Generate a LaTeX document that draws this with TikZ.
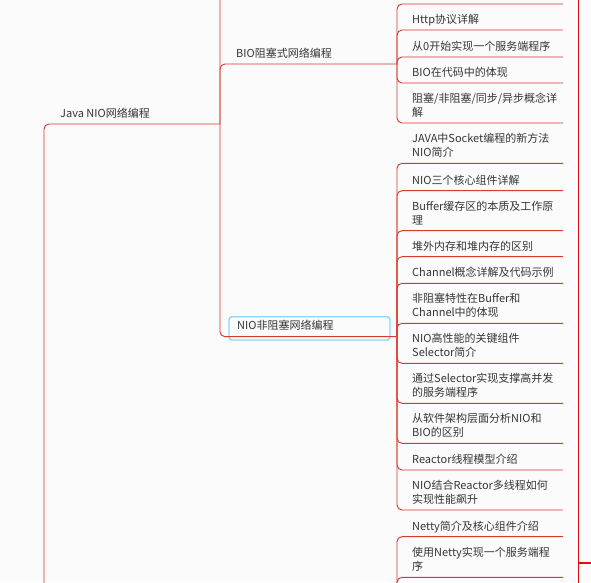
\documentclass[tikz,border=0pt]{standalone}
\usepackage{fontspec}
\newfontfamily\cjkf{Noto Sans CJK SC}
\definecolor{bgc}{HTML}{FBFBFB}
\definecolor{linec}{HTML}{D83A2C}
\definecolor{rightc}{HTML}{E30B0B}
\definecolor{txtc}{HTML}{353535}
\definecolor{selc}{HTML}{8CD7F5}
\newcommand{\twol}[2]{\vtop{\baselineskip=14pt\hbox{#1}\hbox{#2}}}
\tikzset{
  lbl/.style={anchor=base west, inner sep=0pt, text=txtc, font=\cjkf\fontsize{11}{14}\selectfont},
  conn/.style={draw=linec, line width=0.95pt, rounded corners=5pt},
  selbox/.style={draw=selc, line width=1.4pt, rounded corners=3pt}
}
\begin{document}
\begin{tikzpicture}[x=1pt,y=-1pt]
\fill[bgc] (0,0) rectangle (591,582);
\useasboundingbox (0,0) rectangle (591,582);
\clip (0,0) rectangle (591,582);

% junctions
\coordinate (jroot) at (44,700);
\coordinate (jjava) at (220,124);
\coordinate (jbio) at (397,64);
\coordinate (jnio) at (397,336.7);
\coordinate (jnetty) at (397,640);

% left labels
\node[lbl] (java) at (60,117.5) {Java NIO网络编程};
\node[lbl] (bio) at (236,57.5) {BIO阻塞式网络编程};
\node[lbl] (nio) at (237,329.8) {NIO非阻塞网络编程};
\node[selbox, minimum width=161pt, minimum height=23.3pt, anchor=north west] (sel) at (228.3,316) {};

% underline ends of level-1/2 nodes
\coordinate (uprev) at (397,-88);
\draw[conn] (jroot) |- (jjava);
\draw[conn] (jjava) |- (uprev);
\draw[conn] (jjava) |- (jbio);
\draw[conn] (jjava) |- (jnio);

% BIO children
\coordinate (ub0) at (563,4);
\coordinate (ub1) at (563,30);
\coordinate (ub2) at (563,57);
\coordinate (ub3) at (563,83);
\coordinate (ub4) at (563,123);
\node[lbl] (b1) at (412,23.5) {Http协议详解};
\node[lbl] (b2) at (412,50.5) {从0开始实现一个服务端程序};
\node[lbl] (b3) at (412,76.5) {BIO在代码中的体现};
\node[lbl] (b4) at (412,102.5) {\twol{阻塞/非阻塞/同步/异步概念详}{解}};
\foreach \u in {ub0,ub1,ub2,ub3,ub4} \draw[conn] (jbio) |- (\u);

% NIO children
\coordinate (un1) at (563,163.3);
\coordinate (un2) at (563,190.7);
\coordinate (un3) at (563,230.7);
\coordinate (un4) at (563,256.7);
\coordinate (un5) at (563,283.3);
\coordinate (un6) at (563,323.3);
\coordinate (un7) at (563,363.3);
\coordinate (un8) at (563,403.3);
\coordinate (un9) at (563,443.3);
\coordinate (un10) at (563,470);
\coordinate (un11) at (563,510);
\node[lbl] (n1) at (412,142.8) {\twol{JAVA中Socket编程的新方法}{NIO简介}};
\node[lbl] (n2) at (412,184.2) {NIO三个核心组件详解};
\node[lbl] (n3) at (412,210.2) {\twol{Buffer缓存区的本质及工作原}{理}};
\node[lbl] (n4) at (412,250.2) {堆外内存和堆内存的区别};
\node[lbl] (n5) at (412,276.8) {Channel概念详解及代码示例};
\node[lbl] (n6) at (412,302.8) {\twol{非阻塞特性在Buffer和}{Channel中的体现}};
\node[lbl] (n7) at (412,342.8) {\twol{NIO高性能的关键组件}{Selector简介}};
\node[lbl] (n8) at (412,382.8) {\twol{通过Selector实现支撑高并发}{的服务端程序}};
\node[lbl] (n9) at (412,422.8) {\twol{从软件架构层面分析NIO和}{BIO的区别}};
\node[lbl] (n10) at (412,463.5) {Reactor线程模型介绍};
\node[lbl] (n11) at (412,489.5) {\twol{NIO结合Reactor多线程如何}{实现性能飙升}};
\foreach \u in {un1,un2,un3,un4,un5,un6,un7,un8,un9,un10,un11} \draw[conn] (jnio) |- (\u);

% Netty children
\coordinate (ut1) at (563,536.7);
\coordinate (ut2) at (563,577.3);
\node[lbl] (t1) at (412,530.2) {Netty简介及核心组件介绍};
\node[lbl] (t2) at (412,556.8) {\twol{使用Netty实现一个服务端程}{序}};
\foreach \u in {ut1,ut2} \draw[conn] (jnetty) |- (\u);

% right line
\coordinate (rtop) at (578.5,-10);
\coordinate (rbot) at (578.5,600);
\coordinate (rstub) at (578.5,563);
\coordinate (rstubend) at (600,563);
\draw[rightc, line width=1.2pt] (rtop) -- (rbot);
\draw[rightc, line width=1.2pt] (rstub) -- (rstubend);
\end{tikzpicture}
\end{document}
